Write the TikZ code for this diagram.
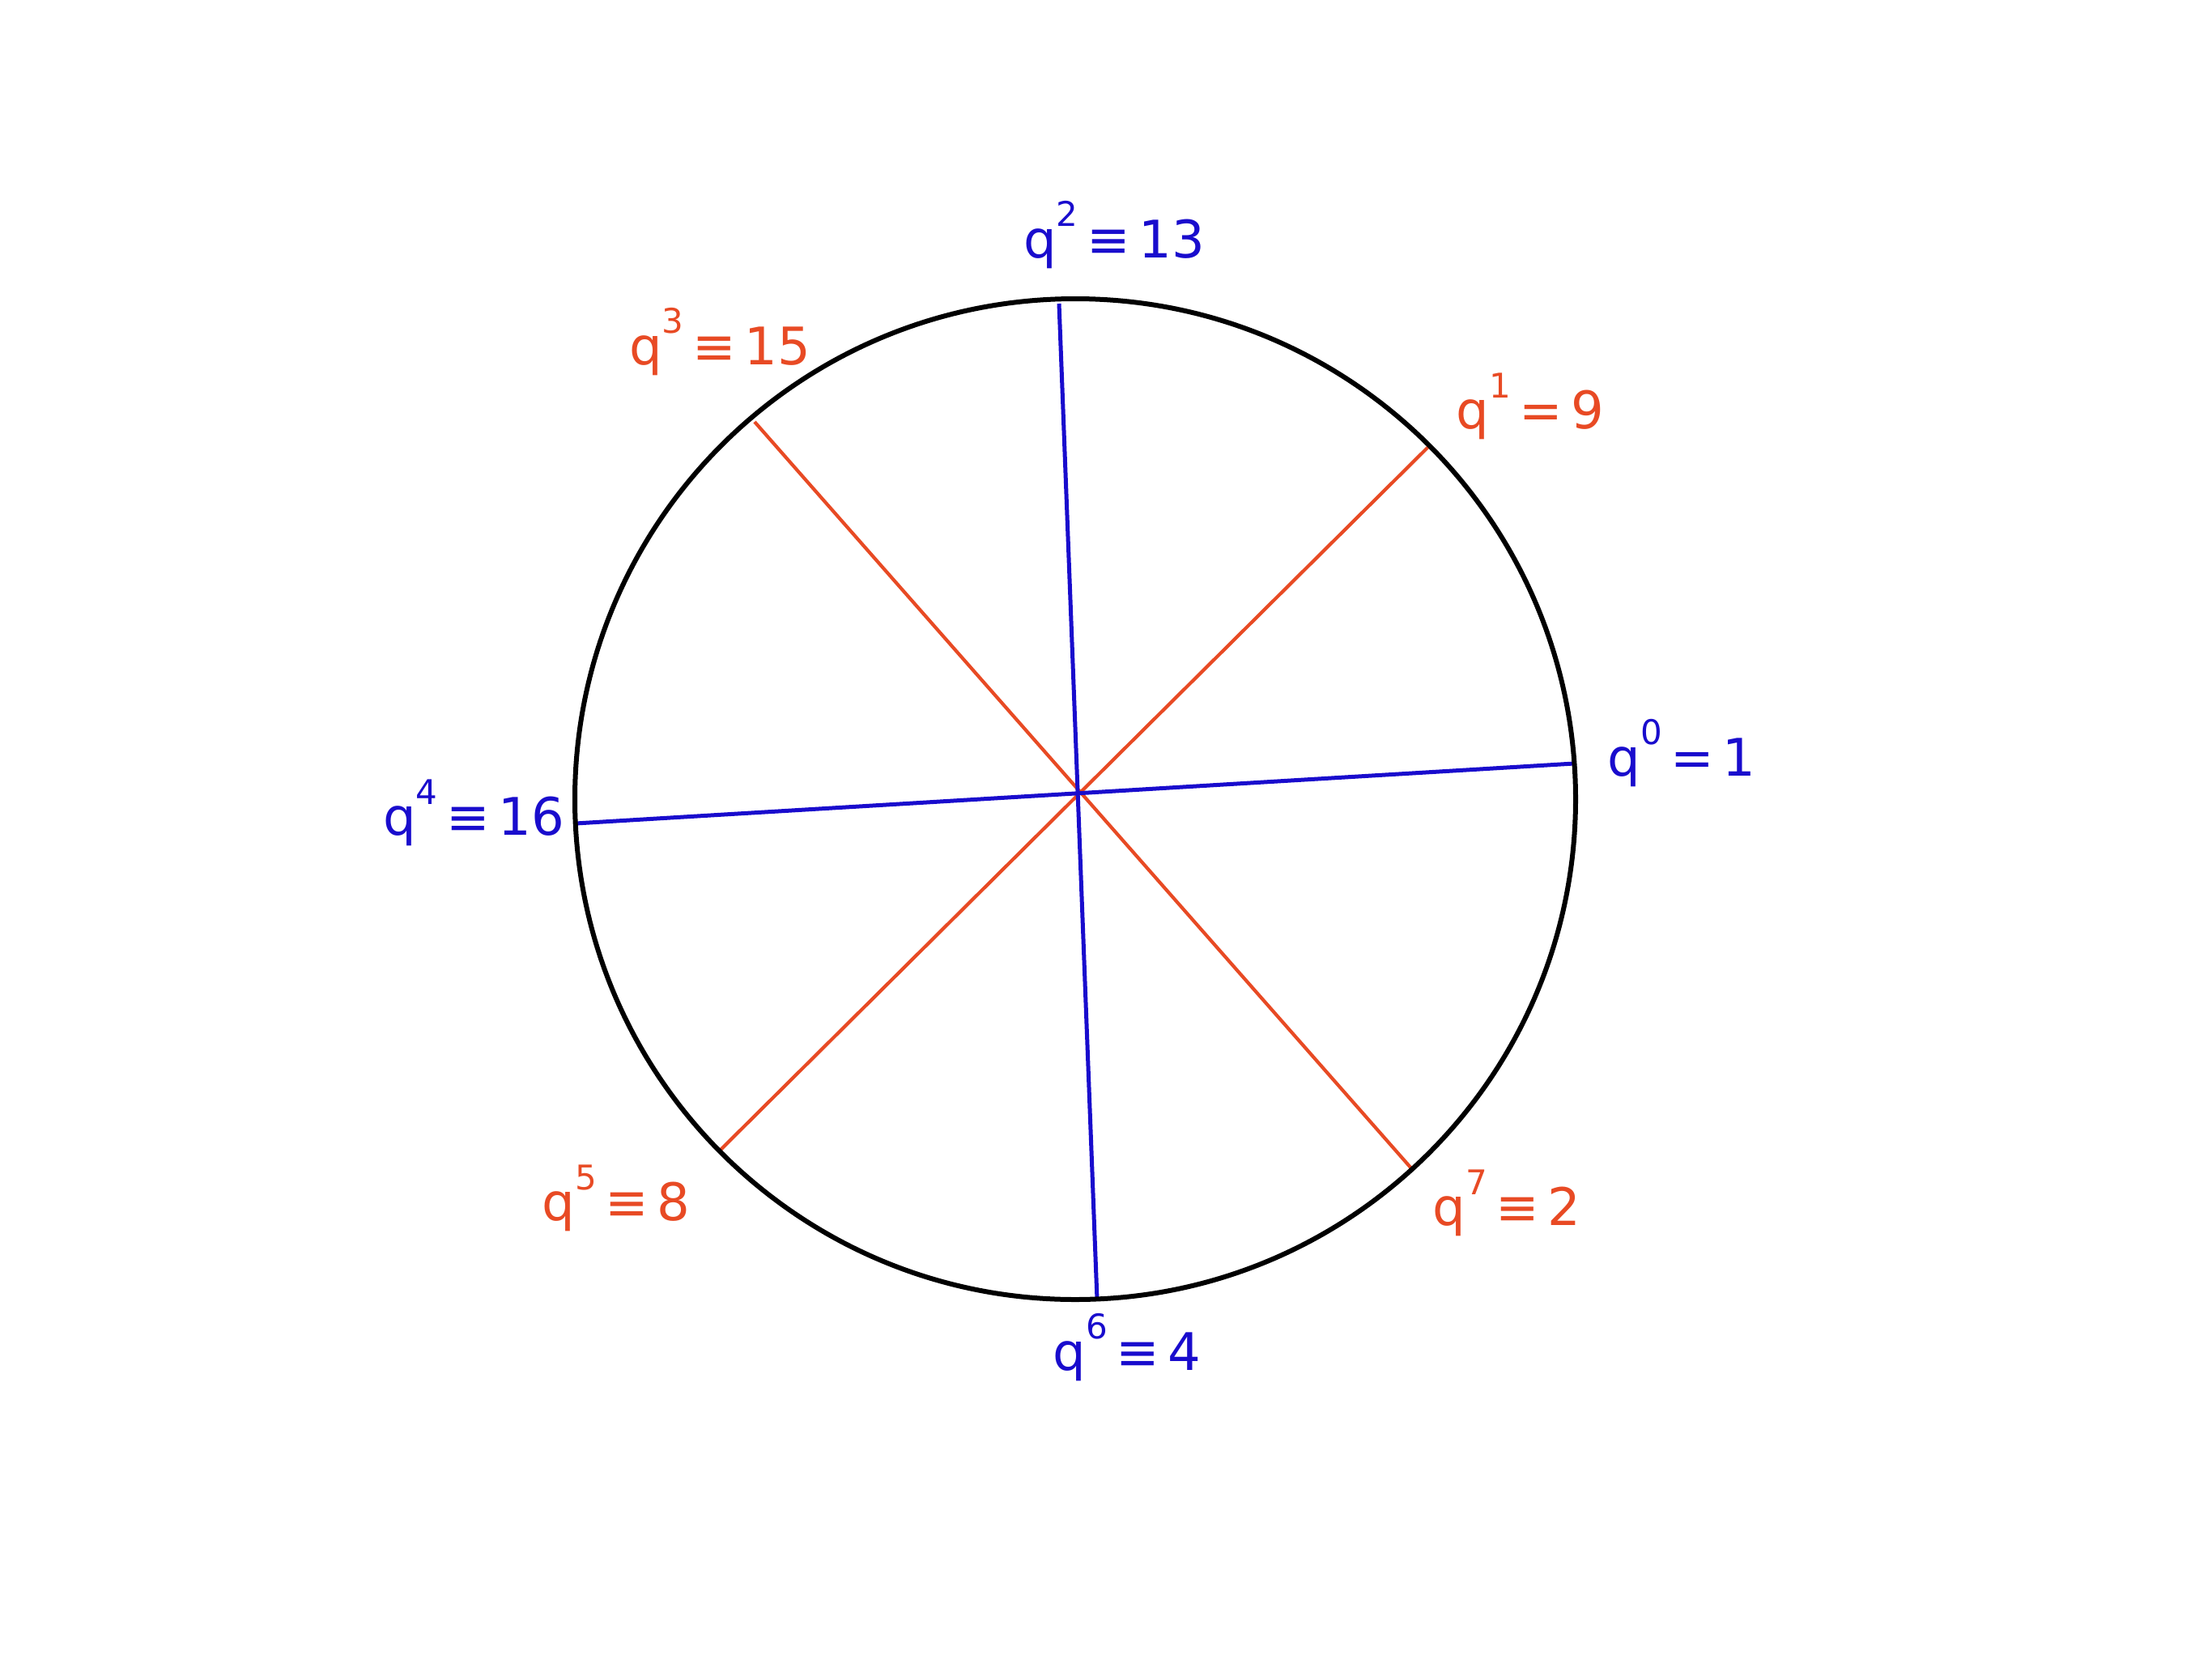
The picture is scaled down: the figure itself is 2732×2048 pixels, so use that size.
\documentclass[tikz,border=0pt]{standalone}
\usepackage{fontspec}
\setmainfont{DejaVu Sans}
\definecolor{qblue}{RGB}{25,12,205}
\definecolor{qred}{RGB}{232,74,36}
\newcommand{\qlab}[3]{q\raisebox{0.6em}{\fontsize{42}{42}\selectfont #1}\,#2\,#3}
\begin{document}
\begin{tikzpicture}[x=1pt,y=-1pt,
  bluel/.style={draw=qblue,line width=5pt},
  redl/.style={draw=qred,line width=4.2pt},
  bluet/.style={text=qblue,font=\fontsize{64}{64}\selectfont,inner sep=0pt},
  redt/.style={text=qred,font=\fontsize{64}{64}\selectfont,inner sep=0pt}]
\useasboundingbox[fill=white] (0,0) rectangle (2732,2048);
\coordinate (c) at (1331,979);
\coordinate (p0) at (1944,943);
\coordinate (p1) at (1765,551);
\coordinate (p2) at (1308,375);
\coordinate (p3) at (932,521);
\coordinate (p4) at (711,1017);
\coordinate (p5) at (887,1423);
\coordinate (p6) at (1355,1605);
\coordinate (p7) at (1744,1444);
\draw[redl] (p1) -- (p5);
\draw[redl] (p3) -- (p7);
\draw[bluel] (p0) -- (p4);
\draw[bluel] (p2) -- (p6);
\draw[black,line width=6pt] (1328,987) circle (618);
\node[bluet] (l2) at (1376,290) {\qlab{2}{≡}{13}};
\node[redt] (l3) at (889,422) {\qlab{3}{≡}{15}};
\node[redt] (l1) at (1890,502) {\qlab{1}{=}{9}};
\node[bluet] (l0) at (2077,930) {\qlab{0}{=}{1}};
\node[bluet] (l4) at (585,1004) {\qlab{4}{≡}{16}};
\node[redt] (l5) at (761,1480) {\qlab{5}{≡}{8}};
\node[bluet] (l6) at (1392,1664) {\qlab{6}{≡}{4}};
\node[redt] (l7) at (1861,1486) {\qlab{7}{≡}{2}};
\end{tikzpicture}
\end{document}
